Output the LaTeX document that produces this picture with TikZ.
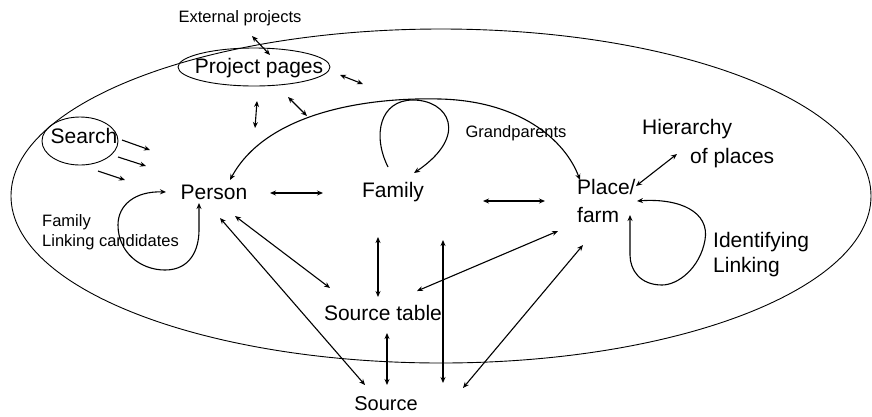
\documentclass[tikz,border=0pt]{standalone}
\usepackage{fontspec}
\setmainfont{Liberation Sans}
\usetikzlibrary{arrows.meta}
\begin{document}
\begin{tikzpicture}[x=1pt,y=-1pt,
  big/.style={font=\fontsize{21}{28}\selectfont, inner sep=0pt},
  small/.style={font=\fontsize{16.5}{20}\selectfont, inner sep=0pt},
  link/.style={line width=1.1pt, {Stealth[length=6pt,width=5pt]}-{Stealth[length=6pt,width=5pt]}},
  onearrow/.style={line width=1.1pt, -{Stealth[length=6pt,width=5pt]}},
  outline/.style={line width=0.9pt}]
\useasboundingbox (0,0) rectangle (872,416);
% outer ellipse
\draw[outline] (441,196) ellipse [x radius=430, y radius=167];
% nodes
\node[big] (pp) at (259,68) {Project pages};
\draw[outline] (254,67) ellipse [x radius=76, y radius=19];
\node[small] (ext) at (240,18) {External projects};
\node[big] (search) at (84,136) {Search};
\draw[outline] (80,141) ellipse [x radius=38, y radius=24];
\node[big] (person) at (214,192) {Person};
\node[big] (family) at (393,192) {Family};
\node[big, align=left, anchor=north west, font=\fontsize{21}{28}\selectfont] (place) at (577,179) {Place/\\farm};
\node[big, align=left, anchor=north west, font=\fontsize{21}{29}\selectfont] (hier) at (642,119) {Hierarchy\\\hspace*{48pt}of places};
\node[big, align=left, anchor=north west, font=\fontsize{21}{25}\selectfont] (ident) at (713,232) {Identifying\\Linking};
\node[small] (gp) at (516,133) {Grandparents};
\node[small, align=left, anchor=north west, font=\fontsize{16.5}{20}\selectfont] (flc) at (42,214) {Family\\Linking candidates};
\node[big] (stab) at (383,313) {Source table};
\node[big, font=\fontsize{20}{24}\selectfont] (src) at (386,404) {Source};
% arrow end points
\coordinate (e1) at (252,36);  \coordinate (e2) at (270,55);
\coordinate (p1) at (340,75);  \coordinate (p2) at (363,84);
\coordinate (p3) at (257,101); \coordinate (p4) at (255,128);
\coordinate (p5) at (288,97);  \coordinate (p6) at (307,116);
\coordinate (s1) at (122,140); \coordinate (s2) at (150,150);
\coordinate (s3) at (118,157); \coordinate (s4) at (146,166);
\coordinate (s5) at (98,171);  \coordinate (s6) at (125,180);
\coordinate (a1) at (230,180); \coordinate (a2) at (580,180);
\coordinate (g1) at (388,167); \coordinate (g2) at (414,173);
\coordinate (pf1) at (270,193); \coordinate (pf2) at (323,193);
\coordinate (fp1) at (483,201); \coordinate (fp2) at (545,201);
\coordinate (h1) at (677,154); \coordinate (h2) at (636,186);
\coordinate (i1) at (637,201); \coordinate (i2) at (630,215);
\coordinate (l1) at (166,192); \coordinate (l2) at (199,203);
\coordinate (ps1) at (235,216); \coordinate (ps2) at (330,288);
\coordinate (pso1) at (220,218); \coordinate (pso2) at (365,385);
\coordinate (fs1) at (378,237); \coordinate (fs2) at (378,297);
\coordinate (ss1) at (387,333); \coordinate (ss2) at (387,385);
\coordinate (v1) at (443,240); \coordinate (v2) at (443,383);
\coordinate (pl1) at (558,231); \coordinate (pl2) at (417,291);
\coordinate (pl3) at (583,245); \coordinate (pl4) at (463,388);
% connectors
\draw[link] (e1) -- (e2);
\draw[link] (p1) -- (p2);
\draw[link] (p3) -- (p4);
\draw[link] (p5) -- (p6);
\draw[onearrow] (s1) -- (s2);
\draw[onearrow] (s3) -- (s4);
\draw[onearrow] (s5) -- (s6);
\draw[link] (a1) .. controls (265,115) and (360,97) .. (440,99) .. controls (520,101) and (565,140) .. (a2);
\draw[onearrow] (g1) .. controls (372,135) and (380,100) .. (413,100) .. controls (448,100) and (470,135) .. (g2);
\draw[link] (pf1) -- (pf2);
\draw[link] (fp1) -- (fp2);
\draw[link] (h1) -- (h2);
\draw[link] (i1) .. controls (680,198) and (710,212) .. (705,240) .. controls (700,268) and (678,285) .. (662,285) .. controls (640,285) and (630,270) .. (630,255) -- (i2);
\draw[link] (l1) .. controls (135,191) and (118,205) .. (118,225) .. controls (118,252) and (140,270) .. (165,270) .. controls (190,270) and (199,250) .. (199,230) -- (l2);
\draw[link] (ps1) -- (ps2);
\draw[link] (pso1) -- (pso2);
\draw[link] (fs1) -- (fs2);
\draw[link] (ss1) -- (ss2);
\draw[link] (v1) -- (v2);
\draw[link] (pl1) -- (pl2);
\draw[link] (pl3) -- (pl4);
\end{tikzpicture}
\end{document}
